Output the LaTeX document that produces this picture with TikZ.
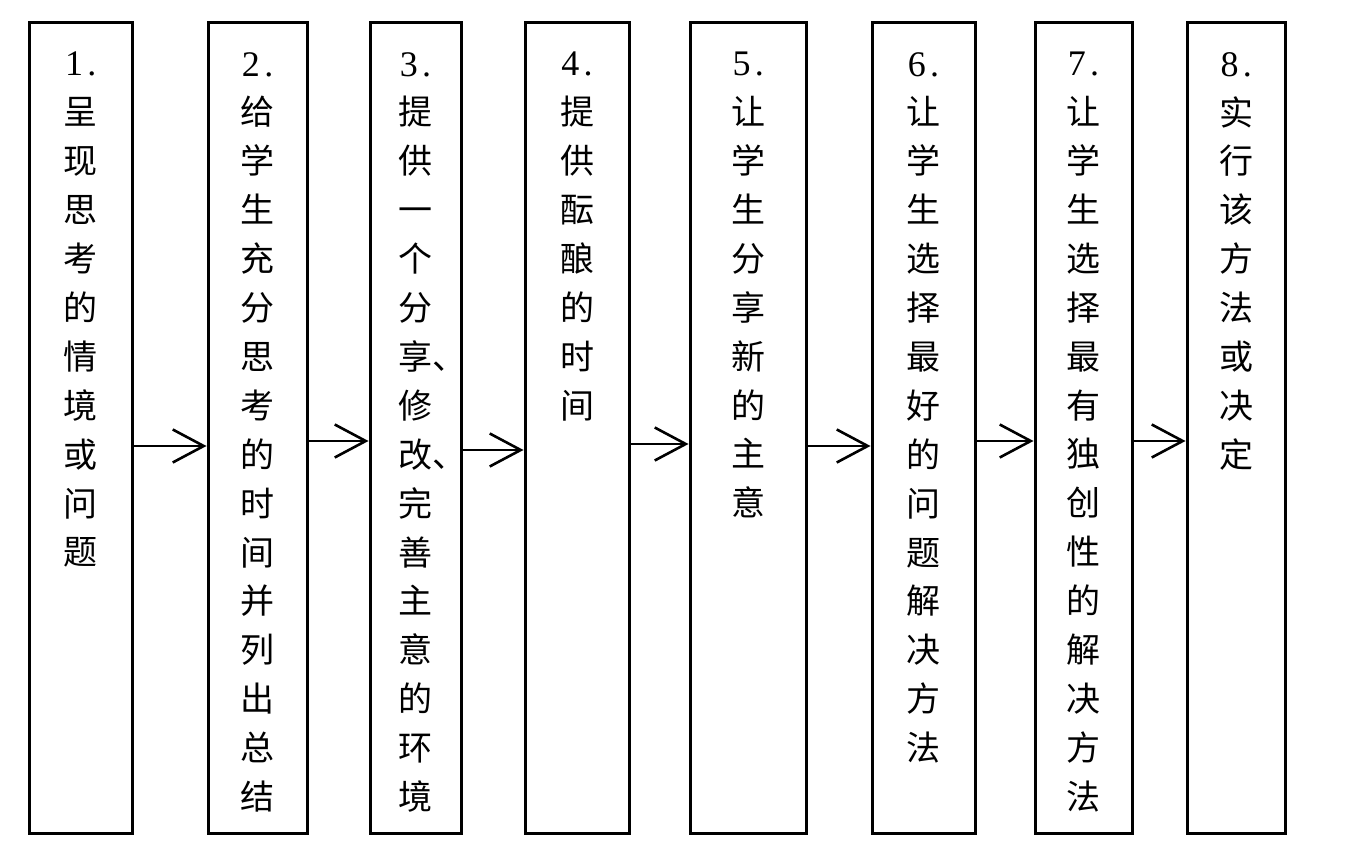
\documentclass[tikz,border=0pt]{standalone}
\usepackage{fontspec}
\setmainfont{Liberation Serif}
\newfontfamily\cjk{Noto Sans CJK SC}
\usetikzlibrary{arrows.meta}
\newcommand{\numlab}[1]{{\rmfamily\fontsize{36}{48.9}\selectfont #1\hspace{0.12em}.}}
\tikzset{
  box/.style={draw=black, line width=3pt, inner sep=0pt, minimum height=810.5pt},
  txt/.style={anchor=north, inner sep=0pt, align=center,
    font=\cjk\fontsize{34}{48.9}\selectfont},
  arr/.style={line width=2.6pt, -{Straight Barb[length=31pt, width=33pt, line width=2.6pt]}}
}
\begin{document}
\begin{tikzpicture}[x=1pt, y=-1pt]
\useasboundingbox (0,0) rectangle (1352,866);
% boxes
\node[box, minimum width=103.7pt] (b1) at (80.85,427.8) {};
\node[box, minimum width=99.3pt]  (b2) at (257.65,427.8) {};
\node[box, minimum width=91pt]    (b3) at (415.5,427.8) {};
\node[box, minimum width=104pt]   (b4) at (577,427.8) {};
\node[box, minimum width=116.7pt] (b5) at (748.35,427.8) {};
\node[box, minimum width=103pt]   (b6) at (923.5,427.8) {};
\node[box, minimum width=97pt]    (b7) at (1083.5,427.8) {};
\node[box, minimum width=98.7pt]  (b8) at (1236.35,427.8) {};
% texts
\node[txt] (t1) at (b1.north |- 0,52) {\numlab{1}\\呈\\现\\思\\考\\的\\情\\境\\或\\问\\题};
\node[txt] (t2) at (b2.north |- 0,52) {\numlab{2}\\给\\学\\生\\充\\分\\思\\考\\的\\时\\间\\并\\列\\出\\总\\结};
\node[txt] (t3) at (b3.north |- 0,52) {\numlab{3}\\提\\供\\一\\个\\分\\享\rlap{、}\\修\\改\rlap{、}\\完\\善\\主\\意\\的\\环\\境};
\node[txt] (t4) at (b4.north |- 0,52) {\numlab{4}\\提\\供\\酝\\酿\\的\\时\\间};
\node[txt] (t5) at (b5.north |- 0,52) {\numlab{5}\\让\\学\\生\\分\\享\\新\\的\\主\\意};
\node[txt] (t6) at (b6.north |- 0,52) {\numlab{6}\\让\\学\\生\\选\\择\\最\\好\\的\\问\\题\\解\\决\\方\\法};
\node[txt] (t7) at (b7.north |- 0,52) {\numlab{7}\\让\\学\\生\\选\\择\\最\\有\\独\\创\\性\\的\\解\\决\\方\\法};
\node[txt] (t8) at (b8.north |- 0,52) {\numlab{8}\\实\\行\\该\\方\\法\\或\\决\\定};
% arrows
\draw[arr] (b1.east |- 0,446) -- (b2.west |- 0,446);
\draw[arr] (b2.east |- 0,441) -- (b3.west |- 0,441);
\draw[arr] (b3.east |- 0,450) -- (b4.west |- 0,450);
\draw[arr] (b4.east |- 0,444) -- (b5.west |- 0,444);
\draw[arr] (b5.east |- 0,446) -- (b6.west |- 0,446);
\draw[arr] (b6.east |- 0,441) -- (b7.west |- 0,441);
\draw[arr] (b7.east |- 0,441) -- (b8.west |- 0,441);
\end{tikzpicture}
\end{document}
